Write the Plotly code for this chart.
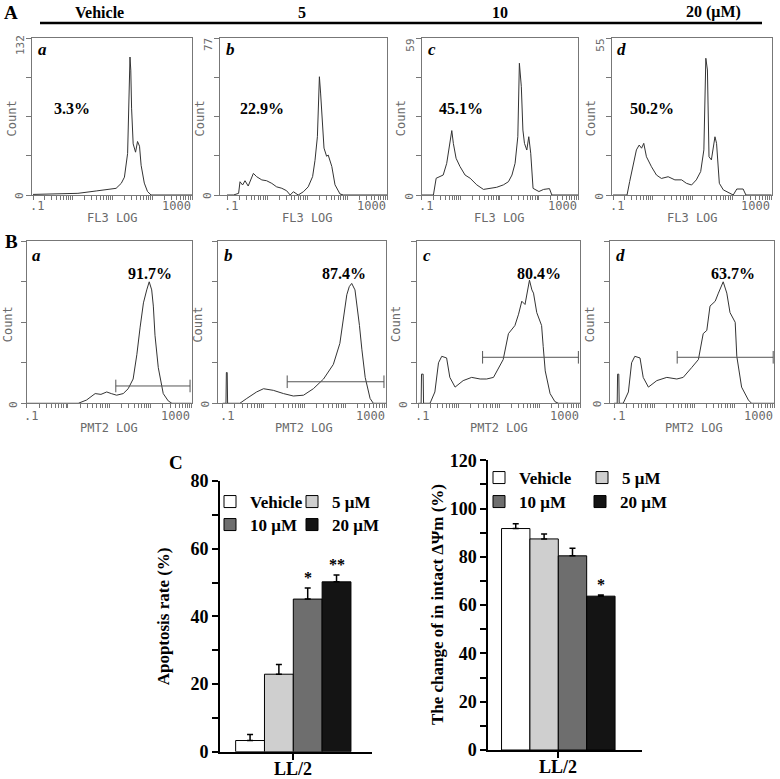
import plotly.graph_objects as go

W, H = 780, 779

# ------------------------------------------------------------------ data
header_labels = ["Vehicle", "5", "10", "20 (μM)"]
panel_letters = ["a", "b", "c", "d"]
log_axis_labels = [".1", "1000"]

# Row A : FL3 LOG histograms (x given as log10 of channel, y = count)
fl3_max = [132, 77, 59, 55]
fl3_pct = ["3.3%", "22.9%", "45.1%", "50.2%"]
fl3_a_lx = [-1.0, -0.58, 0.13, 0.59, 0.93, 1.09, 1.22, 1.30, 1.38, 1.40, 1.42, 1.44, 1.46, 1.48, 1.52, 1.58, 1.63, 1.68, 1.72, 1.80, 1.88, 1.97, 3.0]
fl3_a_ct = [0.5, 0.8, 1.4, 3.4, 4.8, 5.6, 9.8, 15, 35, 66, 101, 116, 105, 73, 43, 36, 45, 41, 25, 10, 3, 0, 0]
fl3_b_lx = [-1.0, -0.84, -0.71, -0.675, -0.61, -0.55, -0.47, -0.34, -0.26, -0.13, -0.01, 0.12, 0.24, 0.37, 0.49, 0.58, 0.66, 0.78, 0.91, 1.03, 1.14, 1.20, 1.26, 1.31, 1.34, 1.375, 1.425, 1.49, 1.53, 1.62, 1.70, 1.825, 1.91, 3.0]
fl3_b_ct = [0, 0, 0.8, 6.5, 4.9, 7, 4.4, 10.6, 9, 7.4, 7, 5.7, 4, 3.3, 2.1, 0, 1.6, 0, 1.6, 4, 9, 17, 28.6, 58, 50, 37, 23, 19, 19.6, 14, 5, 0.5, 0, 0]
fl3_c_lx = [-1.0, -0.70, -0.63, -0.53, -0.45, -0.36, -0.29, -0.23, -0.19, -0.12, -0.02, 0.11, 0.24, 0.41, 0.58, 0.75, 0.92, 1.09, 1.22, 1.31, 1.39, 1.46, 1.50, 1.55, 1.59, 1.63, 1.69, 1.74, 1.79, 1.85, 2.0, 2.12, 2.27, 2.33, 3.0]
fl3_c_ct = [0, 0, 6.3, 6.9, 7.5, 11.9, 18.2, 24.2, 19.4, 13.8, 10.7, 7.5, 6.3, 3.8, 2.1, 2.5, 2.9, 3.8, 5, 7.5, 11.9, 21.9, 49.5, 40.7, 24.4, 19.4, 16.9, 21.9, 15.7, 2.5, 1.3, 2.1, 2.4, 0, 0]
fl3_d_lx = [-1.0, -0.646, -0.58, -0.495, -0.41, -0.34, -0.28, -0.225, -0.157, -0.03, 0.095, 0.22, 0.39, 0.56, 0.73, 0.85, 0.98, 1.10, 1.21, 1.29, 1.34, 1.38, 1.42, 1.48, 1.57, 1.61, 1.68, 1.78, 1.95, 2.03, 2.12, 2.28, 2.35, 3.0]
fl3_d_ct = [0, 0, 4.7, 9.9, 15.8, 17.5, 16.4, 18.1, 13.4, 9.9, 7, 5.8, 6.4, 5.3, 5.3, 4.1, 3.5, 5.3, 8.2, 15.8, 47.9, 43.8, 13.4, 12.3, 20.4, 18.1, 4.1, 1.8, 0.6, 0, 2.1, 2.1, 0, 0]

# Row B : PMT2 LOG histograms (relative count, full scale 100)
pmt2_max = 100
pmt2_pct = ["91.7%", "87.4%", "80.4%", "63.7%"]
pmt2_a_lx = [-1.0, 0.25, 0.45, 0.55, 0.66, 0.80, 0.94, 1.05, 1.18, 1.34, 1.46, 1.58, 1.67, 1.75, 1.83, 1.91, 1.97, 2.03, 2.07, 2.11, 2.19, 2.31, 2.43, 2.52, 3.0]
pmt2_a_ct = [0, 0, 2, 4, 6, 5.5, 7, 6, 5, 6, 9, 15, 30, 47, 62, 70, 75, 70, 60, 42, 22, 6, 1.5, 0, 0]
pmt2_b_lx = [-1.0, -0.92, -0.91, -0.89, -0.88, -0.58, -0.41, -0.17, 0.0, 0.24, 0.49, 0.73, 0.98, 1.22, 1.47, 1.71, 1.87, 1.96, 2.04, 2.10, 2.16, 2.24, 2.28, 2.35, 2.41, 2.49, 2.61, 2.69, 3.0]
pmt2_b_ct = [0, 0, 19, 19, 0, 0, 3, 7, 9, 8, 6, 4.5, 5, 9, 15, 24, 37, 53, 67, 72, 74, 70, 63, 48, 33, 16, 3, 0, 0]
pmt2_c_lx = [-1.0, -0.93, -0.92, -0.88, -0.87, -0.71, -0.59, -0.50, -0.42, -0.30, -0.22, -0.09, 0.11, 0.32, 0.53, 0.69, 0.86, 0.98, 1.10, 1.23, 1.39, 1.48, 1.56, 1.64, 1.72, 1.75, 1.81, 1.85, 1.93, 2.05, 2.09, 2.14, 2.26, 2.38, 2.47, 3.0]
pmt2_c_ct = [0, 0, 18, 18, 0, 0, 7, 25, 29, 28, 16, 10, 14, 16, 15, 15, 16, 22, 27, 43, 48, 55, 63, 61, 73, 76, 70, 68, 56, 48, 35, 20, 6, 1, 0, 0]
pmt2_d_lx = [-1.0, -0.92, -0.91, -0.88, -0.87, -0.77, -0.64, -0.56, -0.48, -0.35, -0.27, -0.14, 0.07, 0.32, 0.57, 0.73, 0.94, 1.11, 1.23, 1.32, 1.40, 1.53, 1.61, 1.73, 1.82, 1.90, 2.03, 2.07, 2.19, 2.36, 2.44, 3.0]
pmt2_d_ct = [0, 0, 18, 18, 0, 0, 7, 25, 29, 28, 16, 10, 14, 16, 15, 16, 22, 27, 43, 45, 60, 63, 68, 75, 68, 56, 50, 29, 10, 2, 0, 0]
pmt2_gate_lo = [1.16, 0.58, 0.59, 0.58]
pmt2_gate_hi = [2.96, 2.95, 2.96, 2.98]
pmt2_gate_y = [10.7, 13.3, 28.4, 28.4]

# Panel C : bar charts
bar_groups = ["Vehicle", "5 μM", "10 μM", "20 μM"]
bar_category = "LL/2"
apoptosis = [3.3, 22.9, 45.1, 50.2]
apoptosis_err = [1.8, 2.9, 3.3, 2.0]
apoptosis_sig = ["", "", "*", "**"]
dpsi = [91.7, 87.4, 80.4, 63.7]
dpsi_err = [2.0, 2.0, 3.1, 0.5]
dpsi_sig = ["", "", "", "*"]

# ------------------------------------------------------------------ style
bar_colors = ["#ffffff", "#cfcfcf", "#6e6e6e", "#141414"]
SERIF = "Liberation Serif"
MONO = "DejaVu Sans Mono"
GRAY = "#6a6a6a"
LINE = "#333333"


def fx(px):
    return px / W


def fy(py):
    return 1 - py / H


def sid(n):
    return "" if n == 1 else str(n)


def note(**kw):
    d = dict(showarrow=False, xanchor="center", yanchor="middle")
    d.update(kw)
    return d


fig = go.Figure()
layout = dict(template="none", width=W, height=H, margin=dict(l=0, r=0, t=0, b=0, pad=0),
              paper_bgcolor="white", plot_bgcolor="rgba(0,0,0,0)",
              showlegend=True, hovermode=False)
annotations = []
shapes = []

logtickvals = [k * 10.0 ** d for d in range(-1, 3) for k in range(1, 10)] + [1000.0]

rows = [
    dict(top=38, bottom=195, box=[32, 220, 421.7, 611.7], ax=[33, 227, 421.7, 613],
         end=[192, 387, 578, 771.7], title="FL3 LOG", lab_dy=11, title_dy=23,
         lx=[fl3_a_lx, fl3_b_lx, fl3_c_lx, fl3_d_lx], ct=[fl3_a_ct, fl3_b_ct, fl3_c_ct, fl3_d_ct],
         ymax=fl3_max, pct=fl3_pct, pct_pos=(0.25, 0.55), letter_y=50),
    dict(top=241.3, bottom=403.3, box=[26.7, 218.3, 416.7, 610], ax=[26.7, 222.7, 418.3, 614],
         end=[191.7, 386, 580, 774], title="PMT2 LOG", lab_dy=13, title_dy=25,
         lx=[pmt2_a_lx, pmt2_b_lx, pmt2_c_lx, pmt2_d_lx], ct=[pmt2_a_ct, pmt2_b_ct, pmt2_c_ct, pmt2_d_ct],
         ymax=[pmt2_max] * 4, pct=pmt2_pct, pct_pos=(0.75, 0.80), letter_y=256),
]

n = 0
for r, row in enumerate(rows):
    for c in range(4):
        n += 1
        s = sid(n)
        box, ax0, end = row["box"][c], row["ax"][c], row["end"][c]
        perdec = (end - ax0) / 4.0
        xstart = -1 - (ax0 - box) / perdec
        ymax = row["ymax"][c]
        layout["xaxis" + s] = dict(
            type="log", domain=[fx(box), fx(end)], range=[xstart, 3], anchor="y" + s,
            showline=True, mirror=True, linecolor="#777", linewidth=1,
            ticks="outside", ticklen=4, tickcolor="#777", tickwidth=1,
            tickvals=logtickvals, showticklabels=False, automargin=False,
            showgrid=False, zeroline=False, fixedrange=True)
        layout["yaxis" + s] = dict(
            domain=[fy(row["bottom"]), fy(row["top"])], range=[0, ymax], anchor="x" + s,
            showline=True, mirror=True, linecolor="#777", linewidth=1, automargin=False,
            ticks="outside", ticklen=5, tickcolor="#777",
            tickvals=[0, ymax / 4, ymax / 2, 3 * ymax / 4, ymax], showticklabels=False,
            showgrid=False, zeroline=False, fixedrange=True)
        fig.add_trace(go.Scatter(
            x=[10 ** v for v in row["lx"][c]], y=row["ct"][c], mode="lines",
            line=dict(color=LINE, width=1), xaxis="x" + s, yaxis="y" + s,
            showlegend=False, hoverinfo="skip"))
        if r == 1:
            fig.add_trace(go.Scatter(
                x=[10 ** pmt2_gate_lo[c], 10 ** pmt2_gate_hi[c]], y=[pmt2_gate_y[c]] * 2,
                mode="lines+markers", line=dict(color="#555", width=1),
                marker=dict(symbol="line-ns-open", size=9, line=dict(color="#555", width=1)),
                xaxis="x" + s, yaxis="y" + s, showlegend=False, hoverinfo="skip"))
        # x-axis end labels and title (cytometer style, set inward)
        mono11 = dict(family=MONO, size=11, color=GRAY)
        mono12 = dict(family=MONO, size=12, color=GRAY)
        annotations.append(note(text=log_axis_labels[0], x=fx(ax0 + 4), y=fy(row["bottom"] + row["lab_dy"]),
                                xref="paper", yref="paper", font=mono12))
        annotations.append(note(text=log_axis_labels[1], x=fx(end - 16), y=fy(row["bottom"] + row["lab_dy"]),
                                xref="paper", yref="paper", font=mono12))
        annotations.append(note(text=row["title"], x=fx((ax0 + end) / 2), y=fy(row["bottom"] + row["title_dy"]),
                                xref="paper", yref="paper", font=mono12))
        # y-axis labels (rotated)
        if r == 0:
            annotations.append(note(text=str(ymax), x=fx(box - 12), y=fy(row["top"] + 7),
                                    xref="paper", yref="paper", textangle=-90, font=mono11))
        annotations.append(note(text="Count", x=fx(max(box - 20, 8)), y=fy((row["top"] + row["bottom"]) / 2 + 2),
                                xref="paper", yref="paper", textangle=-90, font=mono12))
        annotations.append(note(text="0", x=fx(box - 13), y=fy(row["bottom"] + 1),
                                xref="paper", yref="paper", textangle=-90, font=mono11))
        # panel letter and percentage
        annotations.append(note(text="<i><b>%s</b></i>" % panel_letters[c], x=fx(box + 10),
                                y=fy(row["letter_y"]), xref="paper", yref="paper",
                                font=dict(family=SERIF, size=17, color="black")))
        annotations.append(note(text="<b>%s</b>" % row["pct"][c], x=row["pct_pos"][0], y=row["pct_pos"][1],
                                xref="x%s domain" % s, yref="y%s domain" % s,
                                font=dict(family=SERIF, size=16, color="black")))

# ------------------------------------------------------------------ bar charts
bar_specs = [
    dict(n=9, vals=apoptosis, err=apoptosis_err, sig=apoptosis_sig, x0=220, x1=371.7,
         y0=751.7, y1=481, ymax=80, gw=0.76, center=293.3, title="Apoptosis rate (%)",
         title_x=163, title_size=17, cat_y=769,
         leg=[(237, 502), (319, 502), (237, 525), (319, 525)]),
    dict(n=10, vals=dpsi, err=dpsi_err, sig=dpsi_sig, x0=488.3, x1=641.7,
         y0=750, y1=460.2, ymax=120, gw=0.74, center=558.3, title="The change of in intact ΔΨm (%)",
         title_x=437, title_size=17, cat_y=767,
         leg=[(506, 478), (609, 478), (506, 502), (607, 502)]),
]

leg_idx = 0
for spec in bar_specs:
    s = sid(spec["n"])
    frac = (spec["center"] - spec["x0"]) / (spec["x1"] - spec["x0"])
    gw = spec["gw"]
    bw = gw / 4
    layout["xaxis" + s] = dict(
        domain=[fx(spec["x0"]), fx(spec["x1"])], range=[-frac, 1 - frac], anchor="y" + s,
        showline=True, linecolor="black", linewidth=2, ticks="outside", ticklen=6,
        tickcolor="black", tickwidth=1.5, tickvals=[0], showticklabels=False, automargin=False,
        showgrid=False, zeroline=False, fixedrange=True)
    layout["yaxis" + s] = dict(
        domain=[fy(spec["y0"]), fy(spec["y1"])], range=[0, spec["ymax"]], anchor="x" + s,
        showline=True, linecolor="black", linewidth=2, ticks="outside", ticklen=6,
        tickcolor="black", tickwidth=1.5, dtick=20, automargin=False,
        minor=dict(dtick=10, ticks="outside", ticklen=6, tickcolor="black", tickwidth=1.5),
        tickfont=dict(family=SERIF, size=18, color="black", weight="bold"),
        showgrid=False, zeroline=False, fixedrange=True)
    annotations.append(note(text="<b>%s</b>" % bar_category, x=0, y=fy(spec["cat_y"]),
                            xref="x" + s, yref="paper", font=dict(family=SERIF, size=18, color="black")))
    for i, name in enumerate(bar_groups):
        leg_idx += 1
        lid = "legend" + sid(leg_idx)
        fig.add_trace(go.Bar(
            x=[0], y=[spec["vals"][i]], width=bw, offset=-gw / 2 + i * bw, name=name,
            marker=dict(color=bar_colors[i], line=dict(color="black", width=1)),
            error_y=dict(type="data", array=[spec["err"][i]], arrayminus=[0], symmetric=False,
                         color="black", thickness=1.5, width=3),
            xaxis="x" + s, yaxis="y" + s, legend=lid, hoverinfo="skip"))
        lx, ly = spec["leg"][i]
        layout[lid] = dict(x=fx(lx - 27), y=fy(ly), xanchor="left", yanchor="middle",
                           bgcolor="rgba(0,0,0,0)", borderwidth=0,
                           font=dict(family=SERIF, size=17, color="black", weight="bold"))
        if spec["sig"][i]:
            annotations.append(note(text="<b>%s</b>" % spec["sig"][i],
                                    x=-gw / 2 + (i + 0.5) * bw, y=spec["vals"][i] + spec["err"][i],
                                    xref="x" + s, yref="y" + s, yanchor="bottom",
                                    font=dict(family=SERIF, size=16, color="black")))
    annotations.append(note(text="<b>%s</b>" % spec["title"], x=fx(spec["title_x"]), y=0.5,
                            xref="paper", yref="y%s domain" % s, textangle=-90,
                            font=dict(family=SERIF, size=spec["title_size"], color="black")))

# ------------------------------------------------------------------ headers
header_x = [100, 302, 500, 713]
for t, hx in zip(header_labels, header_x):
    annotations.append(note(text="<b>%s</b>" % t, x=fx(hx), y=fy(12), xref="paper", yref="paper",
                            font=dict(family=SERIF, size=16, color="black")))
for t, (px, py) in zip(["A", "B", "C"], [(11, 12), (11, 241), (176, 463)]):
    annotations.append(note(text="<b>%s</b>" % t, x=fx(px), y=fy(py), xref="paper", yref="paper",
                            font=dict(family=SERIF, size=19, color="black")))
shapes.append(dict(type="line", xref="paper", yref="paper", x0=fx(40), x1=fx(762), y0=fy(23), y1=fy(23),
                   line=dict(color="black", width=2.5)))

layout["annotations"] = annotations
layout["shapes"] = shapes
fig.update_layout(**layout)
fig.write_html("out.html", config={"displayModeBar": False},
               post_script="document.body.style.margin='0';document.body.style.overflow='hidden';")
